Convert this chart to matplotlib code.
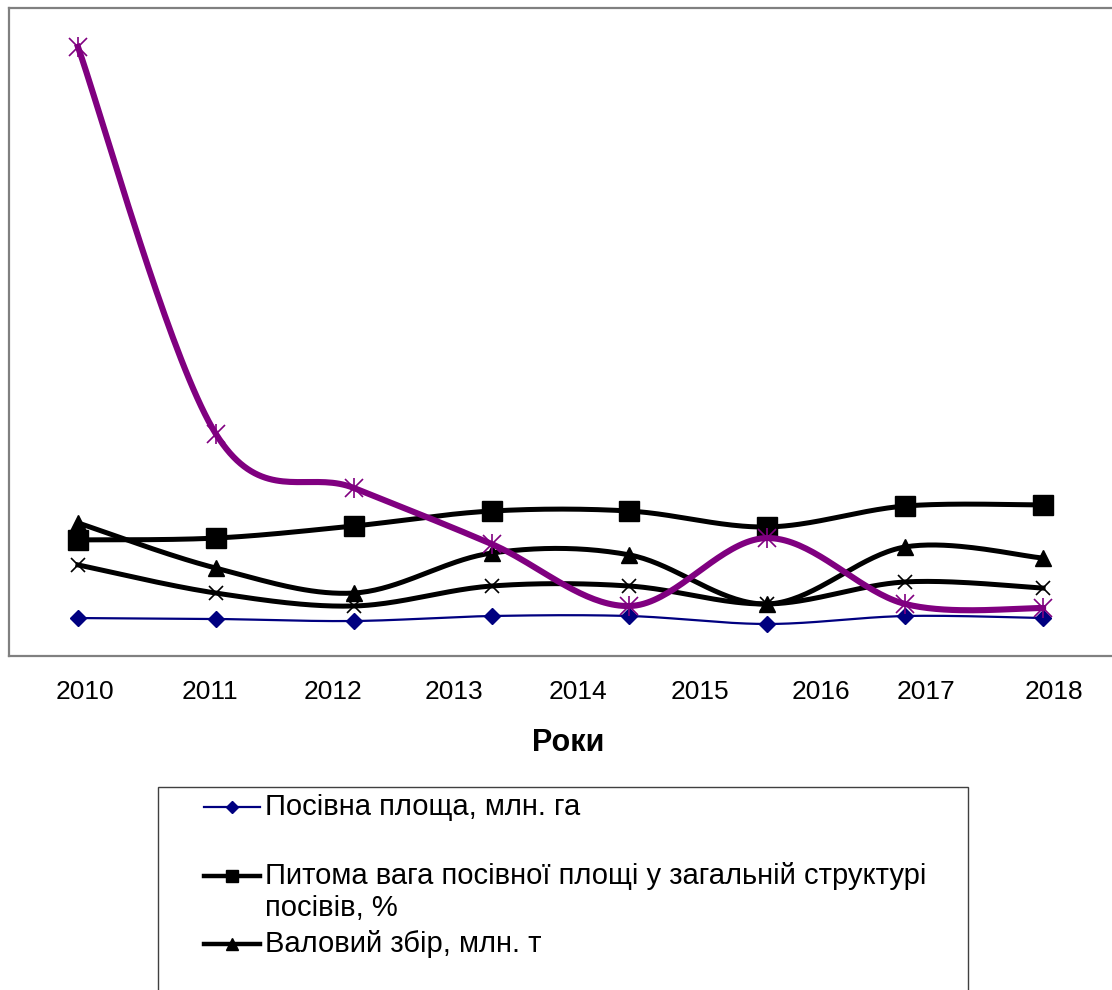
import numpy as np
import matplotlib
matplotlib.use("Agg")
import matplotlib.pyplot as plt
from matplotlib.lines import Line2D
from matplotlib.patches import Rectangle

plt.rcParams['font.family'] = ['Liberation Sans', 'DejaVu Sans']

# ---- data ----
points = [0, 1, 2, 3, 4, 5, 6, 7]
tick_pos = [0.05, 0.96, 1.85, 2.73, 3.63, 4.51, 5.39, 6.15, 7.08]
tick_labels = ["2010", "2011", "2012", "2013", "2014", "2015", "2016", "2017", "2018"]

area = [2.05, 2.00, 1.89, 2.16, 2.16, 1.73, 2.16, 2.05]
share = [6.27, 6.37, 7.02, 7.83, 7.83, 6.97, 8.10, 8.16]
harvest = [7.19, 4.75, 3.40, 5.56, 5.46, 2.81, 5.89, 5.29]
series4 = [4.92, 3.40, 2.70, 3.78, 3.78, 2.81, 4.00, 3.67]
series5 = [32.9, 12.0, 9.08, 6.05, 2.70, 6.37, 2.81, 2.59]

labels = ["Посівна площа, млн. га",
          "Питома вага посівної площі у загальній структурі\nпосівів, %",
          "Валовий збір, млн. т"]


def smooth(x, y, n=40):
    pts = np.column_stack([x, y]).astype(float)
    out = []
    for i in range(len(pts) - 1):
        p0 = pts[i - 1] if i > 0 else pts[i]
        p1 = pts[i]
        p2 = pts[i + 1]
        p3 = pts[i + 2] if i + 2 < len(pts) else pts[i + 1]
        c1 = p1 + (p2 - p0) / 6.0
        c2 = p2 - (p3 - p1) / 6.0
        t = np.linspace(0, 1, n)[:, None]
        seg = (1 - t) ** 3 * p1 + 3 * (1 - t) ** 2 * t * c1 + 3 * (1 - t) * t ** 2 * c2 + t ** 3 * p2
        out.append(seg if i == 0 else seg[1:])
    s = np.vstack(out)
    return s[:, 0], s[:, 1]


W, H = 1112, 990
fig = plt.figure(figsize=(W / 100, H / 100), dpi=100)
ax = fig.add_axes([9 / W, 1 - 656 / H, 1103 / W, 648 / H])

navy = '#000080'
purple = '#800080'

# series 1
sx, sy = smooth(points, area)
ax.plot(sx, sy, color=navy, lw=1.6, zorder=3)
ax.plot(points, area, ls='none', marker='D', ms=8, color=navy, zorder=3)
# series 2
sx, sy = smooth(points, share)
ax.plot(sx, sy, color='black', lw=3.6, zorder=3)
ax.plot(points, share, ls='none', marker='s', ms=14, color='black', zorder=3)
# series 3
sx, sy = smooth(points, harvest)
ax.plot(sx, sy, color='black', lw=3.6, zorder=3)
ax.plot(points, harvest, ls='none', marker='^', ms=12, color='black', zorder=3)
# series 4
sx, sy = smooth(points, series4)
ax.plot(sx, sy, color='black', lw=3.6, zorder=3)
ax.plot(points, series4, ls='none', marker='x', ms=10, mew=1.2, color='black', zorder=3)
# series 5
sx, sy = smooth(points, series5)
ax.plot(sx, sy, color=purple, lw=4.4, zorder=4)
ax.plot(points, series5, ls='none', marker='x', ms=13, mew=1.2, color=purple, zorder=4)
ax.plot(points, series5, ls='none', marker='|', ms=15, mew=1.2, color=purple, zorder=4)

ax.set_xlim(-0.5, 7.5)
ax.set_ylim(0, 35)
ax.set_yticks([])
ax.set_xticks(tick_pos)
ax.set_xticklabels(tick_labels, fontsize=19)
ax.tick_params(axis='x', length=0, pad=17)
for side in ['left', 'top', 'bottom']:
    ax.spines[side].set_color('#808080')
    ax.spines[side].set_linewidth(1.6)
ax.spines['right'].set_visible(False)

ax.set_xlabel("Роки", fontsize=22, fontweight='bold', va='center')
ax.xaxis.set_label_coords((568 - 9) / 1103, (656 - 743) / 648)

# legend (partially cut off at bottom, as in reference)
fig.patches.append(Rectangle((158 / W, -0.2), (968 - 158) / W, 0.2 + 1 - 787 / H,
                             transform=fig.transFigure, fill=False,
                             edgecolor='#404040', lw=1.0))
entries = [
    (navy, 1.6, 'D', 6, 807, 807),
    ('black', 3.2, 's', 9, 876, 892),
    ('black', 3.2, '^', 8, 944, 944),
]
for (col, lw, mk, ms, yh, yt), lab in zip(entries, labels):
    fy = 1 - yh / H
    fig.lines.append(Line2D([204 / W, 260 / W], [fy, fy], transform=fig.transFigure,
                            color=col, lw=lw))
    fig.lines.append(Line2D([232 / W], [fy], transform=fig.transFigure,
                            color=col, marker=mk, ms=ms, ls='none'))
    fig.text(265 / W, 1 - yt / H, lab, fontsize=21, va='center', ha='left',
             linespacing=1.2)

fig.savefig("out.png", dpi=100)
